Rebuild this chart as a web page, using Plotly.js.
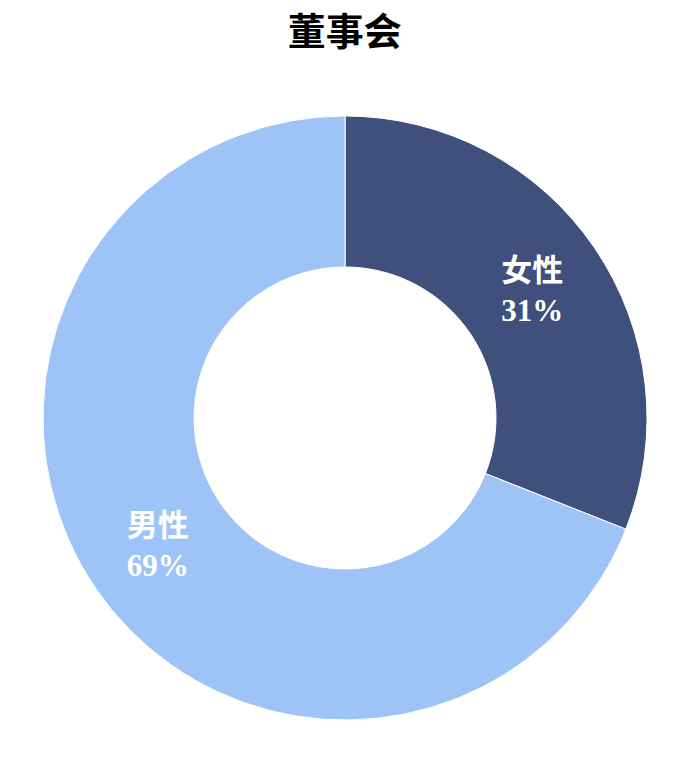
<!DOCTYPE html>
<html>
<head>
<meta charset="utf-8">
<script src="https://cdn.plot.ly/plotly-3.0.1.min.js"></script>
<style>
  html, body { margin: 0; padding: 0; background: #fff; }
  #board-chart { width: 698px; height: 761px; }
</style>
</head>
<body>
<div id="board-chart"></div>
<script>
// 董事会 gender split
var labels = ["女性", "男性"];
var values = [31, 69];
var sliceColors = ["#40507c", "#9ec3f6"];

var trace = {
  type: "pie",
  labels: labels,
  values: values,
  hole: 0.5,
  sort: false,
  direction: "clockwise",
  rotation: 0,
  showlegend: false,
  textinfo: "label+percent",
  textposition: "inside",
  insidetextorientation: "horizontal",
  insidetextfont: {
    family: "Liberation Serif, Noto Sans CJK SC, serif",
    size: 31,
    color: "white",
    weight: "bold"
  },
  marker: {
    colors: sliceColors,
    line: { color: "white", width: 1 }
  },
  domain: { x: [0.0616, 0.9270], y: [0.0539, 0.8476] },
  hoverinfo: "skip"
};

var layout = {
  width: 698,
  height: 761,
  margin: { l: 0, r: 0, t: 0, b: 0 },
  paper_bgcolor: "white",
  title: {
    text: "<b>董事会</b>",
    font: { family: "Noto Sans CJK SC, serif", size: 38, color: "black" },
    x: 0.494,
    xanchor: "center",
    y: 0.958,
    yanchor: "middle"
  }
};

Plotly.newPlot("board-chart", [trace], layout, { displayModeBar: false, staticPlot: true });
</script>
</body>
</html>
